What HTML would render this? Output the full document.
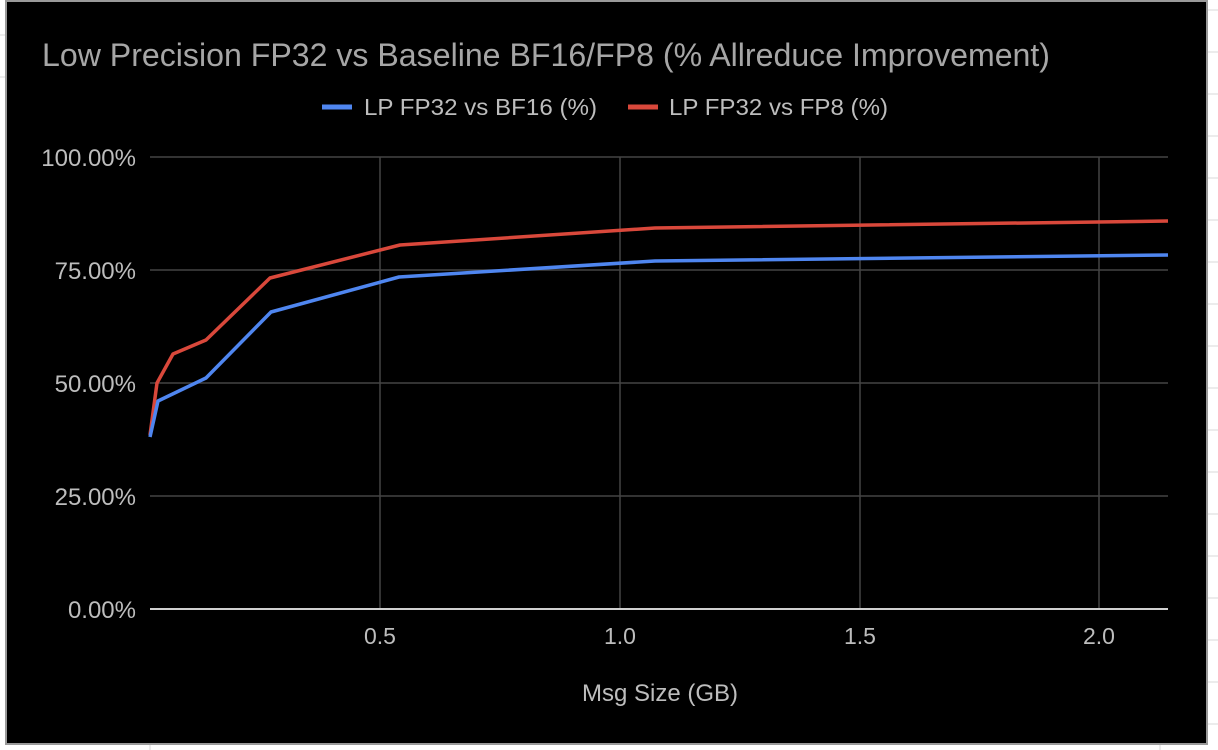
<!DOCTYPE html>
<html><head><meta charset="utf-8"><style>
html,body{margin:0;padding:0;background:#fff;}
svg{display:block;font-family:"Liberation Sans",Arial,sans-serif;}
</style></head><body>
<svg width="1218" height="750" viewBox="0 0 1218 750">
<g stroke="#d9d9d9" stroke-width="1">
<line x1="0" y1="35" x2="6" y2="35"/><line x1="0" y1="77" x2="6" y2="77"/>
<line x1="1208" y1="10" x2="1218" y2="10"/><line x1="1208" y1="52" x2="1218" y2="52"/>
<line x1="1208" y1="94" x2="1218" y2="94"/><line x1="1208" y1="136" x2="1218" y2="136"/>
<line x1="1208" y1="178" x2="1218" y2="178"/><line x1="1208" y1="220" x2="1218" y2="220"/>
<line x1="1208" y1="262" x2="1218" y2="262"/><line x1="1208" y1="304" x2="1218" y2="304"/>
<line x1="1208" y1="346" x2="1218" y2="346"/><line x1="1208" y1="388" x2="1218" y2="388"/>
<line x1="1208" y1="430" x2="1218" y2="430"/><line x1="1208" y1="472" x2="1218" y2="472"/>
<line x1="1208" y1="514" x2="1218" y2="514"/><line x1="1208" y1="556" x2="1218" y2="556"/>
<line x1="1208" y1="598" x2="1218" y2="598"/><line x1="1208" y1="640" x2="1218" y2="640"/>
<line x1="1208" y1="682" x2="1218" y2="682"/><line x1="1208" y1="724" x2="1218" y2="724"/>
<line x1="150" y1="745" x2="150" y2="750"/><line x1="1160" y1="745" x2="1160" y2="750"/>
</g>
<rect x="6" y="1" width="1201" height="743" fill="#000" stroke="#9a9a9a" stroke-width="2"/>
<text x="42" y="66" font-size="32" fill="#a6a6a6" textLength="1008" lengthAdjust="spacingAndGlyphs">Low Precision FP32 vs Baseline BF16/FP8 (% Allreduce Improvement)</text>
<line x1="322" y1="107" x2="352" y2="107" stroke="#4f86f0" stroke-width="5"/>
<text x="364" y="115" font-size="23" fill="#bdbdbd" textLength="233" lengthAdjust="spacingAndGlyphs">LP FP32 vs BF16 (%)</text>
<line x1="628" y1="107" x2="658" y2="107" stroke="#d9483b" stroke-width="5"/>
<text x="669" y="115" font-size="23" fill="#bdbdbd" textLength="219" lengthAdjust="spacingAndGlyphs">LP FP32 vs FP8 (%)</text>
<g stroke="#444" stroke-width="1.5">
<line x1="150" y1="157" x2="1168" y2="157"/><line x1="150" y1="270" x2="1168" y2="270"/>
<line x1="150" y1="383" x2="1168" y2="383"/><line x1="150" y1="496" x2="1168" y2="496"/>
<line x1="380" y1="157" x2="380" y2="609"/><line x1="620" y1="157" x2="620" y2="609"/>
<line x1="860" y1="157" x2="860" y2="609"/><line x1="1099" y1="157" x2="1099" y2="609"/>
</g>
<line x1="150" y1="609" x2="1168" y2="609" stroke="#d0d0d0" stroke-width="2"/>
<g font-size="24" fill="#bdbdbd" text-anchor="end">
<text x="136" y="166">100.00%</text><text x="136" y="279">75.00%</text>
<text x="136" y="392">50.00%</text><text x="136" y="505">25.00%</text>
<text x="136" y="618">0.00%</text>
</g>
<g font-size="23" fill="#bdbdbd" text-anchor="middle">
<text x="380" y="644">0.5</text><text x="620" y="644">1.0</text>
<text x="860" y="644">1.5</text><text x="1099" y="644">2.0</text>
<text x="660" y="701" font-size="24">Msg Size (GB)</text>
</g>
<polyline fill="none" stroke="#d9483b" stroke-width="3.5" stroke-linejoin="round" points="150,435 157,383 173,354 206,340 270,278 400,245 655,228 1168,221"/>
<polyline fill="none" stroke="#4f86f0" stroke-width="3.5" stroke-linejoin="round" points="150,437 158,401 206,378 271,312 399,277 655,261 1168,255"/>
</svg>
</body></html>
